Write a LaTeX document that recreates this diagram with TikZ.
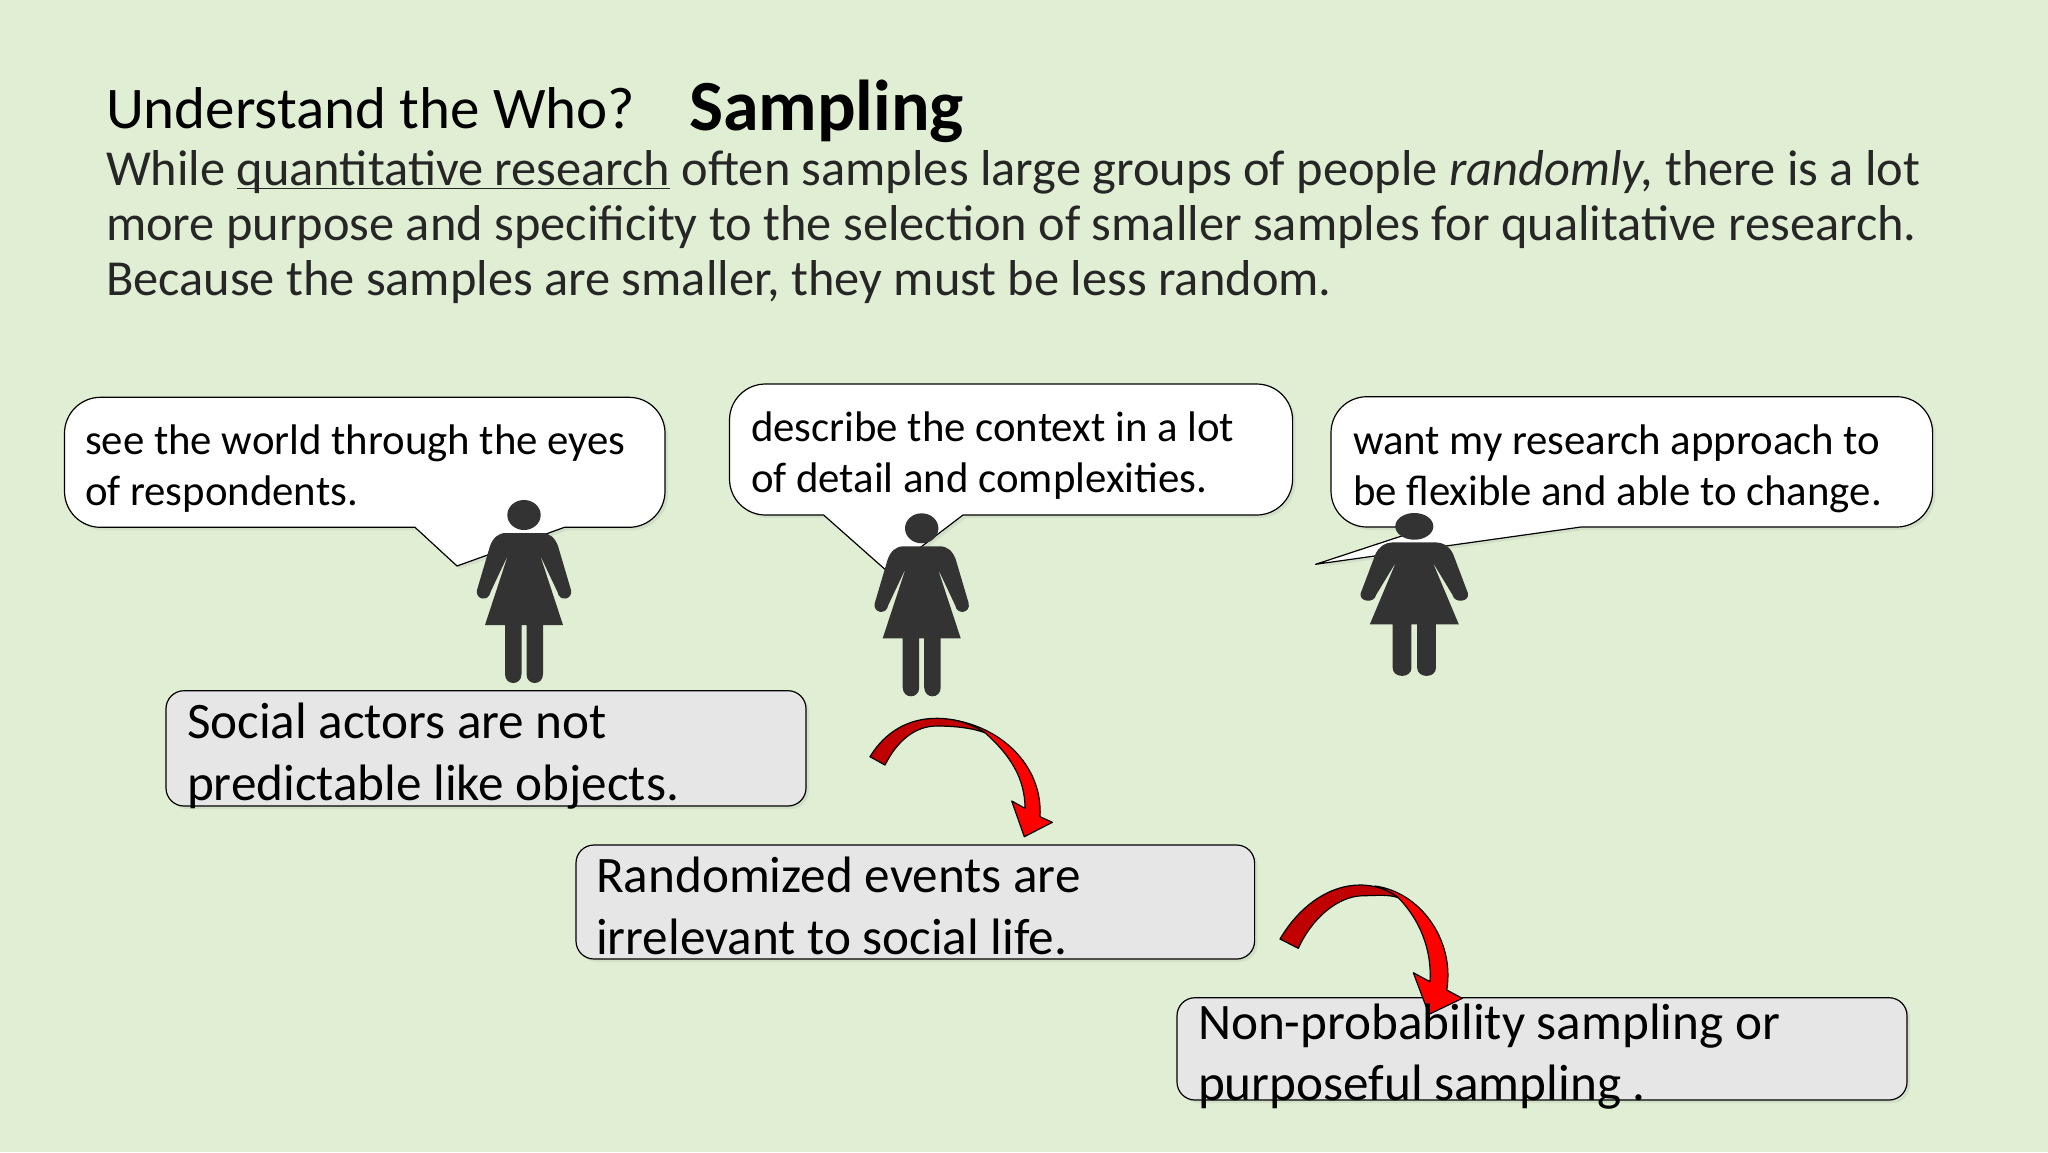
\documentclass[tikz,border=0pt]{standalone}
\usepackage{fontspec}
\usepackage{xcolor}
\usetikzlibrary{shadows}
\setmainfont{Carlito}
\definecolor{slidegreen}{HTML}{E0EFD4}
\definecolor{boxgrey}{HTML}{E6E6E6}
\definecolor{figgrey}{HTML}{333333}
\definecolor{arrowdark}{HTML}{C00000}

\begin{document}
\begin{tikzpicture}[x=0.5pt,y=-0.5pt,
    softshadow/.style={drop shadow={shadow xshift=1.5pt,shadow yshift=-1.5pt,opacity=0.06,fill=black}},
    speech/.style={draw=black,fill=white,line width=0.6pt,line join=round,softshadow},
    greybox/.style={draw=black,fill=boxgrey,line width=0.6pt,rounded corners=9pt,softshadow},
    bandlight/.style={draw=black,fill=red,line width=0.6pt,line join=round},
    banddark/.style={draw=black,fill=arrowdark,line width=0.6pt,line join=round},
    words/.style={anchor=base west,inner sep=0pt,outer sep=0pt},
    head/.style={words,font=\fontsize{29.5}{34}\selectfont},
    body/.style={words,font=\fontsize{25.2}{30}\selectfont,text=black!85},
    said/.style={words,font=\fontsize{21.4}{26}\selectfont},
    boxed/.style={words,font=\fontsize{25.6}{30}\selectfont},
    woman/.pic={
        \fill[figgrey] (0,15) ellipse [x radius=16.7,y radius=15];
        \fill[figgrey] (-18,33) -- (18,33) .. controls (26,33) and (31,38) .. (34,46)
            -- (47,90) .. controls (49,100) and (35,102) .. (33.5,92) -- (16,55) -- (39,125)
            -- (19,125) -- (19,174) .. controls (19,186) and (2.5,186) .. (2.5,174) -- (2.5,125)
            -- (-2.5,125) -- (-2.5,174) .. controls (-2.5,186) and (-19,186) .. (-19,174) -- (-19,125)
            -- (-39,125) -- (-16,55) -- (-33.5,92) .. controls (-35,102) and (-49,100) .. (-47,90)
            -- (-34,46) .. controls (-31,38) and (-26,33) .. (-18,33) -- cycle;
    }]
    \useasboundingbox (0,0) rectangle (2048,1152);
    \fill[slidegreen] (0,0) rectangle (2048,1152);

    \node[head] (title) at (106,128) {Understand the Who?};
    \node[head,font=\fontsize{36}{40}\selectfont\bfseries] (topic) at (689,130) {Sampling};
    \node[body] (line1) at (106,185.5) {While \underline{\smash{quantitative research}} often samples large groups of people \textit{randomly,} there is a lot};
    \node[body] (line2) at (106,240.5) {more purpose and specificity to the selection of smaller samples for qualitative research.};
    \node[body] (line3) at (106,295.5) {Because the samples are smaller, they must be less random.};

    \draw[speech] (415,527.3) -- (457,566) -- (564.5,527.3) [rounded corners=18] -- (665,527.3) -- (665,397.3)
        -- (64.5,397.3) -- (64.5,527.3) [sharp corners] -- cycle;
    \draw[speech] (823.6,515) -- (888,572) -- (963,515) [rounded corners=18] -- (1292.6,515) -- (1292.6,384)
        -- (729.5,384) -- (729.5,515) [sharp corners] -- cycle;
    \draw[speech] (1429,527) -- (1315.6,564.3) -- (1581,527) [rounded corners=18] -- (1932.6,527) -- (1932.6,396.7)
        -- (1331,396.7) -- (1331,527) [sharp corners] -- cycle;

    \node[said] (eyes1) at (85,454.5) {see the world through the eyes};
    \node[said] (eyes2) at (85,505.5) {of respondents.};
    \node[said] (context1) at (751,441.5) {describe the context in a lot};
    \node[said] (context2) at (751,492.5) {of detail and complexities.};
    \node[said] (want1) at (1353,454.5) {want my research approach to};
    \node[said] (want2) at (1353,505.5) {be flexible and able to change.};

    \pic at (524,500) {woman};
    \pic at (921.7,513.3) {woman};
    \pic[xscale=1.14,yscale=0.89] at (1414.3,513) {woman};

    \draw[greybox] (166,690.7) rectangle (806,806);
    \draw[greybox] (576,845) rectangle (1254.6,959);
    \draw[greybox] (1177,997.7) rectangle (1907,1100);

    \draw[bandlight] (950,719.5) .. controls (1000,726) and (1043,765) .. (1040,816.7)
        -- (1052.3,822.3) -- (1024.3,836.7) -- (1011.7,801) -- (1025,808.3)
        .. controls (1025,778) and (1010,755) .. (985,732.7) .. controls (975,726) and (962,722) .. (950,719.5) -- cycle;
    \draw[banddark] (870,756.7) .. controls (885,732) and (908,718.3) .. (936.7,718.3)
        .. controls (955,718.3) and (972,724) .. (985,732.7) .. controls (972,728) and (955,726) .. (936.7,726)
        .. controls (915,726) and (897,741) .. (885,765) -- cycle;

    \draw[bandlight] (1375,886) .. controls (1420,892) and (1455,940) .. (1446.7,990)
        -- (1462.3,998.3) -- (1429,1014.3) -- (1413.3,972.7) -- (1430,981.7)
        .. controls (1432,950) and (1420,920) .. (1398.3,897.7) .. controls (1392,892) and (1383,889) .. (1375,886) -- cycle;
    \draw[banddark] (1280,939) .. controls (1300,905) and (1330,885) .. (1360,885)
        .. controls (1376,885) and (1388,890) .. (1398.3,897.7) .. controls (1388,894) and (1375,895.7) .. (1363,895.7)
        .. controls (1338,896) and (1312,918) .. (1298.3,948.3) -- cycle;

    \node[boxed] (social1) at (187,738.5) {Social actors are not};
    \node[boxed] (social2) at (187,800.5) {predictable like objects.};
    \node[boxed] (random1) at (596,892.5) {Randomized events are};
    \node[boxed] (random2) at (596,954) {irrelevant to social life.};
    \node[boxed] (nonprob1) at (1198,1039) {Non-probability sampling or};
    \node[boxed] (nonprob2) at (1198,1100.5) {purposeful sampling .};
\end{tikzpicture}
\end{document}
